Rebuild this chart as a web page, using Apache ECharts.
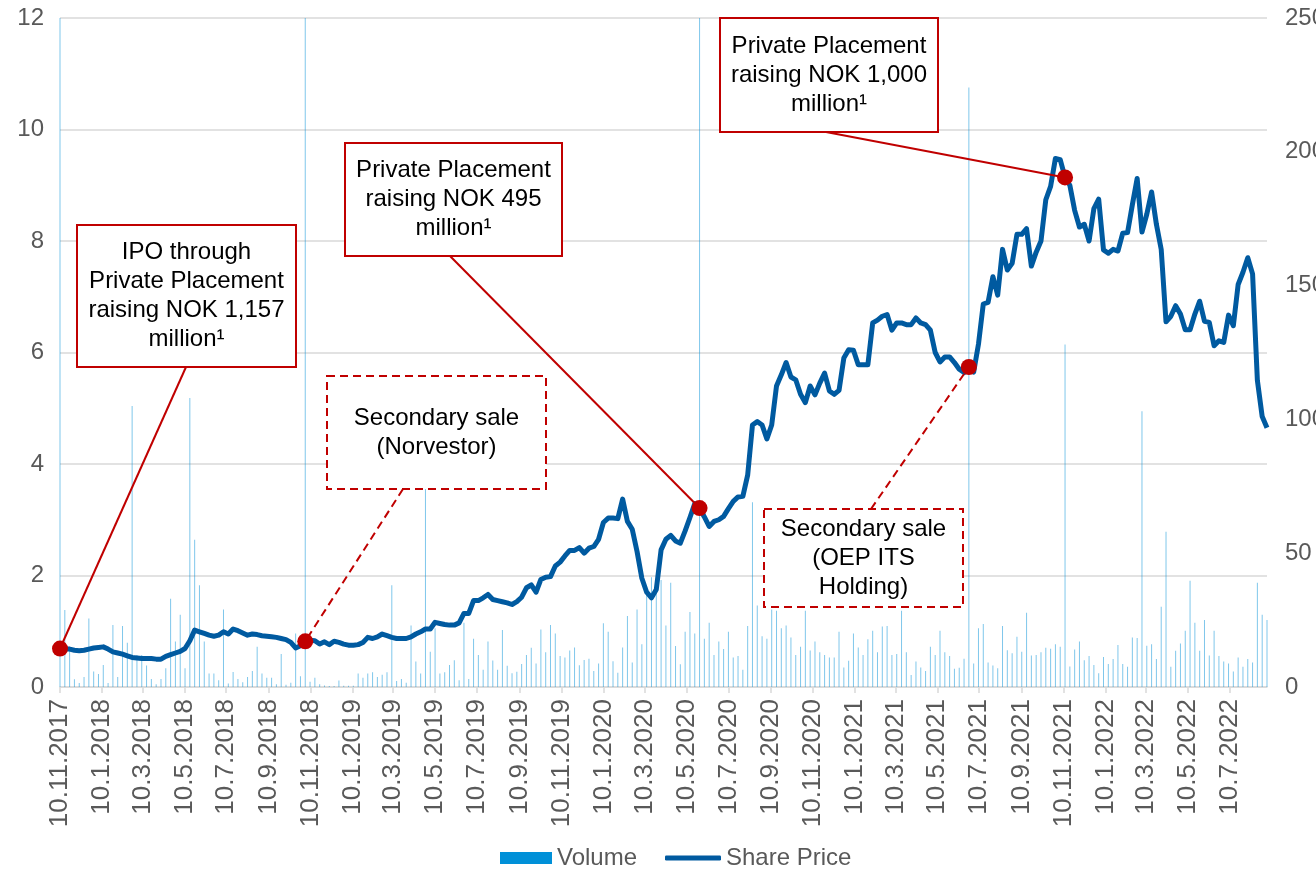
<!DOCTYPE html>
<html><head><meta charset="utf-8">
<script src="https://cdn.jsdelivr.net/npm/echarts@6/dist/echarts.min.js"></script>
<style>html,body{margin:0;padding:0;background:#fff}#c{width:1316px;height:870px}</style>
</head><body><div id="c"></div>
<script>
// ---- data ----
const firstWeek = [2017, 11, 10];   // first weekly observation (y, m, d)
const lastWeekIndex = 251;
const sharePrice = [
0.69,0.68,0.68,0.66,0.65,0.66,0.68,0.70,0.71,0.72,
0.68,0.63,0.61,0.59,0.56,0.53,0.52,0.51,0.51,0.51,
0.50,0.50,0.55,0.58,0.61,0.64,0.69,0.83,1.02,0.99,
0.96,0.93,0.91,0.93,0.99,0.95,1.04,1.01,0.97,0.93,
0.95,0.94,0.92,0.91,0.90,0.89,0.87,0.85,0.80,0.70,
0.74,0.82,0.84,0.83,0.77,0.81,0.76,0.82,0.80,0.77,
0.75,0.75,0.76,0.80,0.89,0.87,0.90,0.95,0.92,0.89,
0.87,0.87,0.87,0.90,0.95,0.99,1.04,1.04,1.16,1.14,
1.12,1.11,1.11,1.15,1.32,1.32,1.55,1.55,1.60,1.66,
1.57,1.55,1.53,1.51,1.48,1.53,1.61,1.78,1.83,1.70,
1.93,1.97,1.98,2.17,2.24,2.35,2.45,2.45,2.50,2.40,
2.49,2.52,2.65,2.95,3.03,3.03,3.02,3.37,2.97,2.83,
2.43,1.95,1.70,1.60,1.75,2.46,2.65,2.72,2.62,2.58,
2.80,3.04,3.29,3.21,3.05,2.88,2.97,3.00,3.06,3.20,
3.33,3.41,3.42,3.80,4.70,4.76,4.70,4.45,4.70,5.40,
5.60,5.82,5.56,5.51,5.25,5.10,5.40,5.24,5.45,5.63,
5.31,5.25,5.32,5.90,6.05,6.04,5.78,5.78,5.78,6.53,
6.58,6.65,6.68,6.40,6.53,6.53,6.50,6.50,6.62,6.53,
6.50,6.40,6.00,5.83,5.92,5.92,5.82,5.70,5.64,5.74,
5.65,6.15,6.87,6.90,7.36,7.03,7.85,7.48,7.60,8.12,
8.12,8.22,7.55,7.80,8.00,8.74,8.98,9.48,9.46,9.14,
9.00,8.55,8.25,8.30,8.00,8.58,8.75,7.84,7.78,7.85,
7.82,8.14,8.15,8.65,9.12,8.16,8.48,8.88,8.30,7.85,
6.55,6.65,6.84,6.69,6.41,6.41,6.69,6.92,6.56,6.54,
6.12,6.21,6.18,6.67,6.48,7.22,7.44,7.70,7.41,5.50,
4.85,4.65
];
const volume = [
300,28.8,15,2.9,1.5,3.7,25.6,5.8,4.9,8.2,
1.5,23.2,3.7,22.8,16.5,105,12,12,8,3,
1,3,7,33,17,27,7,108,55,38,
17,5,5,2.5,29,1.3,5.6,3,1.8,3.7,
6,15,5,3.5,3.5,1,12.3,0.8,1.6,20,
4,300,2,3.5,1,0.6,0.4,0.4,2.4,0.5,
0.5,0.5,5,3.5,5,5.5,3.7,4.6,5.5,38,
2.2,3,1.6,23,9.5,5,74,13.2,22,5,
5.5,8.2,10,2.5,24,3,18,12,6.4,17,
9.9,6.4,21.3,7.9,5.1,5.7,8.6,12,14.7,8.8,
21.5,13,23.2,20,11.6,11,13.6,14.8,8.1,10.1,
10.6,6,8.8,23.8,20.6,9.6,5.3,14.8,26.5,9.2,
29,16,35,41,39,40,23,39,15.3,8.5,
20.6,28,20,300,18,24,12,17,14.2,20.6,
11,11.6,6.4,22.8,69,30.5,19,18,29,28.5,
22,23,18.5,12,15,28.5,13.6,17,13,12,
11,11,20.6,7.3,9.8,20,14.8,12,17.8,21,
13,22.6,22.8,12,12.3,28.5,13,4.5,9.5,7.3,
6,15,12,21,13,11.6,6.8,7.2,10.6,224,
8.8,22,23.5,9.2,8,7,22.8,13.7,12.6,18.8,
13.2,27.7,11.8,12,13,14.7,14.3,16,15,128,
7.7,14,17,10,11.6,8.2,5.1,11.2,8.6,10.5,
15.7,8.6,7.6,18.5,18.3,103,15.4,16,10.5,30,
58,7.6,13.5,16.3,21,39.7,24,13.5,25,11.8,
21,11.6,9.5,8.8,5.8,11,7.6,10.5,9.2,39,
27,25
];
const tickLabels = [
'2017-11-10','2018-01-10','2018-03-10','2018-05-10','2018-07-10','2018-09-10',
'2018-11-10','2019-01-10','2019-03-10','2019-05-10','2019-07-10','2019-09-10',
'2019-11-10','2020-01-10','2020-03-10','2020-05-10','2020-07-10','2020-09-10',
'2020-11-10','2021-01-10','2021-03-10','2021-05-10','2021-07-10','2021-09-10',
'2021-11-10','2022-01-10','2022-03-10','2022-05-10','2022-07-10'
];
const eventWeek = [0, 51, 133, 189, 209];
const eventText = [
'IPO through\nPrivate Placement\nraising NOK 1,157\nmillion¹',
'Secondary sale\n(Norvestor)',
'Private Placement\nraising NOK 495\nmillion¹',
'Secondary sale\n(OEP ITS\nHolding)',
'Private Placement\nraising NOK 1,000\nmillion¹'
];
const eventDashed = [false, true, false, true, false];

// ---- layout of annotation boxes (pixels) ----
const boxLayout = [
  {x:77,  y:225, w:219, h:142, ax:186, ay:367},
  {x:327, y:376, w:219, h:113, ax:403, ay:489},
  {x:345, y:143, w:217, h:113, ax:450, ay:256},
  {x:764, y:509, w:199, h:98,  ax:871, ay:509},
  {x:720, y:18,  w:218, h:114, ax:826, ay:132}
];

// x axis is measured in days since the first observation
const DAY = 86400000;
const t0 = Date.UTC(firstWeek[0], firstWeek[1]-1, firstWeek[2]);
const weekDay = i => i*7;
const parseDay = s => { const p = s.split('-').map(Number); return Math.round((Date.UTC(p[0], p[1]-1, p[2]) - t0)/DAY); };
const ticks = tickLabels.map(parseDay);
const fmtDay = v => { const d = new Date(t0 + Math.round(v)*DAY); return d.getUTCDate()+'.'+(d.getUTCMonth()+1)+'.'+d.getUTCFullYear(); };

const FONT = '"Liberation Sans", Arial, sans-serif';
const FS = 24;
const GREY = '#595959';
const RED = '#c00000';
const BLUE = '#005aa0';

const chart = echarts.init(document.getElementById('c'), null, {renderer:'canvas'});
const option = {
  animation: false,
  backgroundColor: '#fff',
  textStyle: {fontFamily: FONT},
  grid: {left:60, right:49, top:18, bottom:183, containLabel:false, outerBoundsMode:'none'},
  legend: [
    {left: 500, top: 846, padding: 0, itemWidth: 52, itemHeight: 12,
     textStyle: {fontSize: FS, color: GREY, fontFamily: FONT},
     data: [{name:'Volume', icon:'rect', itemStyle:{color:'#0090d8', opacity:1}}]},
    {left: 665, top: 846, padding: 0, itemWidth: 56, itemHeight: 5,
     textStyle: {fontSize: FS, color: GREY, fontFamily: FONT},
     data: [{name:'Share Price', icon:'roundRect', itemStyle:{color:BLUE}}]}
  ],
  xAxis: {
    type: 'value',
    min: 0, max: weekDay(lastWeekIndex),
    axisLine: {show:true, onZero:false, lineStyle:{color:'#d9d9d9', width:1.5}},
    axisTick: {show:true, customValues: ticks, length:6, lineStyle:{color:'#d9d9d9', width:1.5}},
    axisLabel: {
      customValues: ticks, rotate: 90, margin: 12, fontSize: 26, color: GREY, fontFamily: FONT,
      hideOverlap: false, showMinLabel: true, showMaxLabel: true,
      formatter: fmtDay
    },
    splitLine: {show:false}
  },
  yAxis: [
    {type:'value', position:'left', min:0, max:12, interval:2,
     axisLine:{show:false}, axisTick:{show:false},
     axisLabel:{fontSize:FS, color:GREY, margin:16, fontFamily: FONT},
     splitLine:{show:true, lineStyle:{color:'#d9d9d9', width:1.5}}},
    {type:'value', position:'right', min:0, max:250, interval:50,
     axisLine:{show:false}, axisTick:{show:false},
     axisLabel:{fontSize:FS, color:GREY, margin:18, fontFamily: FONT},
     splitLine:{show:false}}
  ],
  series: [
    {name:'Volume', type:'bar', yAxisIndex:1, barWidth:1, clip:true, z:1,
     itemStyle:{color:'rgba(0,144,216,0.5)'},
     data: volume.map((v,i)=>[weekDay(i), v])},
    {name:'Share Price', type:'line', yAxisIndex:0, symbol:'none', showSymbol:false, z:3,
     lineStyle:{width:5, color:BLUE, join:'round'}, itemStyle:{color:BLUE},
     data: sharePrice.map((v,i)=>[weekDay(i), v])},
    {name:'events', type:'scatter', yAxisIndex:0, symbolSize:16, z:20,
     itemStyle:{color:RED, opacity:1},
     data: eventWeek.map(i=>[weekDay(i), sharePrice[i]])}
  ]
};
chart.setOption(option);

const g = [];
eventWeek.forEach((wi, k) => {
  const b = boxLayout[k];
  const p = chart.convertToPixel({seriesIndex:2}, [weekDay(wi), sharePrice[wi]]);
  const dash = eventDashed[k] ? [8,5] : null;
  g.push({type:'line', z:10, shape:{x1:b.ax, y1:b.ay, x2:p[0], y2:p[1]},
          style:{stroke:RED, lineWidth:2, lineDash:dash}});
  g.push({type:'rect', z:11, shape:{x:b.x, y:b.y, width:b.w, height:b.h},
          style:{fill:'#fff', stroke:RED, lineWidth:2, lineDash:dash}});
  g.push({type:'text', z:12, x:b.x+b.w/2, y:b.y+b.h/2,
          style:{text:eventText[k], fill:'#000', font:FS+'px '+FONT, lineHeight:29,
                 align:'center', verticalAlign:'middle'}});
});
chart.setOption({graphic:{elements:g}});
</script></body></html>
